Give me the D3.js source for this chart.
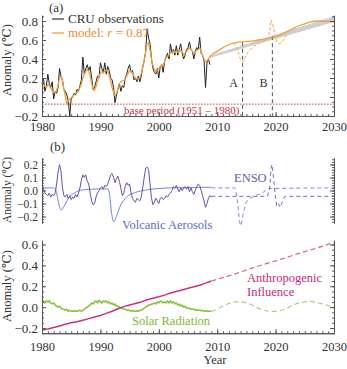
<!DOCTYPE html>
<html>
<head>
<meta charset="utf-8">
<script src="https://cdnjs.cloudflare.com/ajax/libs/d3/7.8.5/d3.min.js"></script>
<style>
body { margin: 0; background: #fff; }
svg text { font-family: "Liberation Serif", "DejaVu Serif", serif; }
.axis path, .axis line { stroke: #555; stroke-width: 1; }
.axis text { font-size: 13px; fill: #333; }
.axis.small text { font-size: 11.5px; }
.axis.xt text { font-size: 12.5px; }
</style>
</head>
<body>
<svg id="fig" width="347" height="369"></svg>
<script>
// ---- data ----
// panel (a): quarterly values starting 1980.0
var cruObs = [
  0.14, 0.20, 0.06, 0.12,  0.24, 0.14, 0.10, 0.16,  -0.02, 0.06, 0.04, 0.10,
  0.30, 0.22, 0.18, 0.08,  0.06, 0.02, -0.04, -0.20,  -0.02, 0.00, 0.04, 0.02,
  0.08, 0.06, 0.12, 0.18,  0.42, 0.24, 0.30, 0.34,  0.28, 0.32, 0.20, 0.08,
  0.10, 0.16, 0.22, 0.20,  0.36, 0.30, 0.26, 0.36,  0.24, 0.32, 0.28, 0.20,
  0.18, 0.10, -0.06, 0.02,  0.08, 0.14, 0.06, 0.12,  0.10, 0.20, 0.24, 0.30,
  0.34, 0.26, 0.28, 0.18,  0.20, 0.16, 0.22, 0.16,  0.22, 0.32, 0.38, 0.48,
  0.72, 0.62, 0.56, 0.40,  0.30, 0.26, 0.24, 0.30,  0.20, 0.32, 0.34, 0.26,
  0.38, 0.42, 0.46, 0.40,  0.56, 0.46, 0.50, 0.44,  0.54, 0.44, 0.50, 0.56,
  0.46, 0.40, 0.44, 0.50,  0.52, 0.58, 0.50, 0.48,  0.40, 0.48, 0.52, 0.50,
  0.63, 0.46, 0.44, 0.38,  0.10, 0.36, 0.40, 0.34
];
var modelFit = [
  0.14, 0.13, 0.11, 0.10,  0.13, 0.12, 0.09, 0.07,  0.05, 0.05, 0.07, 0.12,
  0.20, 0.22, 0.17, 0.08,  0.01, -0.08, -0.04, -0.02,  -0.01, 0.01, 0.02, 0.04,
  0.05, 0.07, 0.10, 0.14,  0.20, 0.24, 0.27, 0.29,  0.27, 0.22, 0.14, 0.08,
  0.07, 0.11, 0.16, 0.21,  0.25, 0.27, 0.25, 0.28,  0.28, 0.27, 0.23, 0.17,
  0.10, 0.05, 0.02, 0.04,  0.09, 0.14, 0.16, 0.17,  0.17, 0.19, 0.22, 0.25,
  0.28, 0.27, 0.25, 0.22,  0.20, 0.19, 0.19, 0.21,  0.25, 0.31, 0.39, 0.47,
  0.56, 0.57, 0.49, 0.40,  0.33, 0.29, 0.27, 0.28,  0.30, 0.32, 0.33, 0.34,
  0.37, 0.41, 0.43, 0.44,  0.47, 0.47, 0.48, 0.47,  0.48, 0.47, 0.48, 0.49,
  0.47, 0.45, 0.46, 0.48,  0.50, 0.52, 0.50, 0.48,  0.46, 0.47, 0.49, 0.50,
  0.52, 0.48, 0.44, 0.40,  0.37, 0.38, 0.40, 0.42
];
var projYears = [2008.75, 2009, 2010, 2011, 2012, 2013, 2014, 2015, 2016, 2017, 2018, 2019,
                 2020, 2021, 2022, 2023, 2024, 2025, 2026, 2027, 2028, 2029, 2030];
var modelProj = [0.42, 0.44, 0.48, 0.52, 0.55, 0.57, 0.58, 0.585, 0.59, 0.60, 0.61, 0.62,
                 0.635, 0.66, 0.69, 0.72, 0.75, 0.77, 0.79, 0.80, 0.80, 0.795, 0.79];
var scenYears = [2012.8, 2013.3, 2013.7, 2014.0, 2014.4, 2014.8, 2015.3, 2016, 2017, 2018,
                 2018.7, 2019.0, 2019.2, 2019.5, 2019.8, 2020.2, 2020.6, 2021.0, 2021.5, 2022];
var scenVals = [0.565, 0.53, 0.45, 0.39, 0.37, 0.42, 0.47, 0.52, 0.56, 0.59,
                0.62, 0.70, 0.81, 0.77, 0.68, 0.58, 0.56, 0.57, 0.62, 0.68];
var bandYears = [2008.7, 2030];
var bandLo = [0.41, 0.79];
var bandHi = [0.435, 0.85];
var basePeriod = -0.075;
var markYears = [2014.35, 2019.45];
var markTop = [0.58, 0.64];
var markNames = ["A", "B"];

// panel (b): quarterly ENSO from 1980.0, volcanic at irregular times
var enso = [
  0.02, 0.01, -0.02, -0.03,  -0.04, -0.02, -0.05, -0.03,  -0.04, -0.02, 0.05, 0.14,
  0.20, 0.15, 0.02, -0.04,  -0.05, -0.03, -0.06, -0.04,  -0.07, -0.05, -0.06, -0.03,
  -0.05, -0.02, 0.02, 0.08,  0.12, 0.10, 0.12, 0.07,  0.05, -0.02, -0.08, -0.11,
  -0.10, -0.05, -0.02, 0.00,  0.02, 0.03, 0.01, 0.04,  0.03, 0.05, 0.08, 0.12,
  0.13, 0.10, 0.06, 0.09,  0.11, 0.07, 0.02, -0.04,  -0.02, 0.03, 0.06, 0.04,
  0.05, -0.02, -0.06, -0.08,  -0.09, -0.06, -0.07, -0.08,  -0.05, 0.02, 0.10, 0.17,
  0.18, 0.16, 0.05, -0.06,  -0.11, -0.09, -0.06, -0.08,  -0.10, -0.06, -0.05, -0.07,
  -0.06, -0.04, -0.05, -0.03,  -0.02, 0.00, 0.03, 0.02,  0.04, 0.01, -0.01, 0.02,
  0.00, 0.02, 0.03, 0.01,  0.03, -0.01, 0.02, -0.01,  -0.03, 0.00, 0.03, 0.05,
  0.04, 0.00, -0.04, -0.08,  -0.13, -0.10, -0.06, -0.04,  -0.05
];
var ensoDashYears = [2009, 2018.6, 2019.0, 2019.2, 2019.4, 2019.6, 2019.9, 2020.2, 2020.5, 2020.8, 2021.2, 2021.6, 2030];
var ensoDash = [-0.045, -0.045, 0.02, 0.17, 0.20, 0.12, -0.02, -0.12, -0.10, -0.13, -0.08, -0.045, -0.045];
var volcYears = [1980, 1982, 1982.4, 1982.8, 1983.3, 1983.8, 1984.5, 1985.5, 1987, 1990, 1991.3,
                 1991.6, 1991.9, 1992.3, 1992.8, 1993.5, 1994.5, 1996, 1998, 2002, 2009];
var volcVals = [0.02, 0.02, 0.0, -0.09, -0.15, -0.12, -0.06, -0.02, 0.005, 0.012, 0.012,
                -0.04, -0.17, -0.24, -0.19, -0.11, -0.05, -0.015, 0.005, 0.02, 0.025];
var volcDashYears = [2009, 2013.0, 2013.5, 2014.0, 2014.5, 2015.0, 2016.0, 2017.5, 2019.0, 2030];
var volcDash = [0.02, 0.02, -0.10, -0.27, -0.17, -0.09, -0.05, -0.025, 0.015, 0.02];

// panel (c): yearly anthropogenic, quarterly solar from 1980.0
var anthroYears = [1980, 1981, 1982, 1983, 1984, 1985, 1986, 1987, 1988, 1989, 1990, 1991, 1992, 1993, 1994,
                   1995, 1996, 1997, 1998, 1999, 2000, 2001, 2002, 2003, 2004, 2005, 2006, 2007, 2008, 2009];
var anthro = [-0.22, -0.21, -0.195, -0.18, -0.165, -0.15, -0.14, -0.125, -0.11, -0.095, -0.08, -0.06, -0.04, -0.015, 0.005,
              0.02, 0.035, 0.05, 0.07, 0.085, 0.10, 0.115, 0.135, 0.15, 0.165, 0.18, 0.195, 0.21, 0.23, 0.25];
var anthroDashYears = [2009, 2012, 2015, 2018, 2021, 2024, 2027, 2030];
var anthroDash = [0.25, 0.30, 0.355, 0.41, 0.46, 0.515, 0.565, 0.62];
var solar = [
  0.05, 0.06, 0.04, 0.06,  0.05, 0.06, 0.04, 0.03,  0.04, 0.02, 0.01, 0.00,
  0.01, -0.01, -0.02, -0.02,  -0.03, -0.02, -0.04, -0.03,  -0.04, -0.04, -0.035, -0.04,
  -0.04, -0.035, -0.03, -0.04,  -0.03, -0.02, -0.01, 0.00,  0.01, 0.02, 0.04, 0.03,
  0.05, 0.06, 0.04, 0.065,  0.05, 0.04, 0.06, 0.05,  0.06, 0.04, 0.05, 0.03,
  0.04, 0.02, 0.03, 0.01,  0.01, 0.00, -0.01, -0.01,  -0.02, -0.02, -0.03, -0.03,
  -0.03, -0.04, -0.03, -0.04,  -0.04, -0.035, -0.04, -0.03,  -0.03, -0.02, -0.01, 0.00,
  0.01, 0.02, 0.02, 0.03,  0.03, 0.04, 0.03, 0.05,  0.04, 0.06, 0.05, 0.04,
  0.05, 0.04, 0.06, 0.04,  0.06, 0.04, 0.05, 0.03,  0.04, 0.02, 0.03, 0.01,
  0.02, 0.00, 0.01, -0.01,  -0.01, -0.01, -0.02, -0.02,  -0.02, -0.03, -0.025, -0.03,
  -0.03, -0.035, -0.03, -0.04,  -0.04, -0.035, -0.04, -0.04,  -0.04
];
var solarDashYears = [2009, 2010, 2011, 2012, 2013, 2014, 2015, 2016, 2017, 2018, 2019,
                      2020, 2021, 2022, 2023, 2024, 2025, 2026, 2027, 2028, 2029, 2030];
var solarDash = [-0.04, -0.02, 0.01, 0.035, 0.05, 0.05, 0.04, 0.02, -0.01, -0.03, -0.04,
                 -0.04, -0.03, -0.01, 0.02, 0.04, 0.05, 0.055, 0.045, 0.03, 0.015, 0.0];

var yearTicks = [1980, 1990, 2000, 2010, 2020, 2030];

// ---- layout ----
var svg = d3.select("#fig");
var xL = 42, xR = 334;
var x = d3.scaleLinear().domain([1980, 2030]).range([xL, xR]);
var yA = d3.scaleLinear().domain([-0.2, 0.8]).range([116, 21]);
var yB = d3.scaleLinear().domain([-0.2, 0.2]).range([216.5, 164.5]);
var yC = d3.scaleLinear().domain([-0.2, 0.6]).range([328, 244.5]);
var fmt = d3.format(".1f");
var q = function (i) { return 1980 + i / 4; };

function yFrame(y, lo, hi, major, minorStep, cls) {
  var minor = d3.range(Math.ceil(lo / minorStep - 1e-9), Math.floor(hi / minorStep + 1e-9) + 1)
      .map(function (k) { return k * minorStep; });
  var ys = y.copy().domain([lo, hi]).range([y(lo), y(hi)]);
  [[d3.axisLeft, xL, true], [d3.axisRight, xR, false]].forEach(function (s) {
    svg.append("g").attr("class", "axis").attr("transform", "translate(" + s[1] + ",0)")
      .call(s[0](ys).tickValues(minor).tickSize(-2).tickSizeOuter(0).tickFormat(""));
    svg.append("g").attr("class", "axis " + (cls || "")).attr("transform", "translate(" + s[1] + ",0)")
      .call(s[0](ys).tickValues(major).tickSize(-4).tickSizeOuter(0).tickPadding(4)
        .tickFormat(s[2] ? fmt : ""));
  });
}
function xFrame(yPos, pad) {
  svg.append("g").attr("class", "axis").attr("transform", "translate(0," + yPos + ")")
    .call(d3.axisBottom(x).tickValues(d3.range(1980, 2031)).tickSize(-2).tickSizeOuter(0).tickFormat(""));
  svg.append("g").attr("class", "axis xt").attr("transform", "translate(0," + yPos + ")")
    .call(d3.axisBottom(x).tickValues(yearTicks).tickSize(-4).tickSizeOuter(0).tickPadding(pad)
      .tickFormat(d3.format("d")));
}
function path(data, xs, ys, color, width, dash, curve) {
  var line = d3.line().x(function (d) { return x(d[0]); }).y(function (d) { return ys(d[1]); })
    .curve(curve || d3.curveLinear);
  svg.append("path").datum(d3.zip(xs, data)).attr("d", line)
    .attr("fill", "none").attr("stroke", color).attr("stroke-width", width)
    .attr("stroke-dasharray", dash || null).attr("stroke-linejoin", "round");
}
function label(txt, px, py, size, color, anchor) {
  return svg.append("text").attr("x", px).attr("y", py).attr("font-size", size)
    .attr("fill", color).attr("text-anchor", anchor || "start").text(txt);
}

// ---- panel (a) ----
svg.append("line").attr("x1", x(1980)).attr("x2", x(2030))
  .attr("y1", yA(basePeriod)).attr("y2", yA(basePeriod))
  .attr("stroke", "#d03a4a").attr("stroke-width", 1).attr("stroke-dasharray", "1.5,1.5");
label("base period (1951 \u2013 1980)", 124, 114, 11, "#c8324a");

svg.append("path")
  .datum(d3.zip(bandYears, bandLo, bandHi))
  .attr("d", d3.area().x(function (d) { return x(d[0]); })
    .y0(function (d) { return yA(d[1]); }).y1(function (d) { return yA(d[2]); }))
  .attr("fill", "#cfcfd2");

markYears.forEach(function (m, i) {
  svg.append("line").attr("x1", x(m)).attr("x2", x(m)).attr("y1", yA(markTop[i])).attr("y2", yA(-0.2))
    .attr("stroke", "#555").attr("stroke-width", 1).attr("stroke-dasharray", "4,3");
  label(markNames[i], x(m) - 9, 87, 12, "#333", "middle");
});

path(cruObs, cruObs.map(function (d, i) { return q(i); }), yA, "#222", 1);
path(modelFit, modelFit.map(function (d, i) { return q(i); }), yA, "#f0a040", 1.3);
path(modelProj, projYears, yA, "#f0a040", 1.3, null, d3.curveMonotoneX);
path(scenVals, scenYears, yA, "#f0a848", 1, "3,2");

yFrame(yA, -0.2, 0.86, [-0.2, 0, 0.2, 0.4, 0.6, 0.8], 0.05);
xFrame(yA(-0.2), 6);

svg.append("line").attr("x1", 52).attr("x2", 64).attr("y1", 19).attr("y2", 19)
  .attr("stroke", "#333").attr("stroke-width", 1.2);
label("CRU observations", 68, 23, 13, "#333");
svg.append("line").attr("x1", 52).attr("x2", 64).attr("y1", 33).attr("y2", 33)
  .attr("stroke", "#f0a040").attr("stroke-width", 1.3);
var mt = label("model: ", 68, 37, 13, "#e8902e");
mt.append("tspan").attr("font-style", "italic").text("r");
mt.append("tspan").text(" = 0.87");
label("(a)", 49, 12, 13, "#333");

// ---- panel (b) ----
path(volcVals, volcYears, yB, "#7086dc", 1, null, d3.curveMonotoneX);
path(volcDash, volcDashYears, yB, "#7a8ee0", 1, "4,3", d3.curveMonotoneX);
path(enso, enso.map(function (d, i) { return q(i); }), yB, "#6e4ea8", 1);
path(ensoDash, ensoDashYears, yB, "#7d68c0", 1, "4,3");
yFrame(yB, -0.25, 0.25, [-0.2, -0.1, 0, 0.1, 0.2], 0.02, "small");
label("(b)", 50, 151, 13, "#333");
label("ENSO", 234, 182, 12.5, "#6a58a8");
label("Volcanic Aerosols", 122, 229, 12.5, "#5a6ccc");

// ---- panel (c) ----
path(solar, solar.map(function (d, i) { return q(i); }), yC, "#84c034", 1.5);
path(solarDash, solarDashYears, yC, "#a8d080", 1.2, "5,3", d3.curveMonotoneX);
path(anthro, anthroYears, yC, "#d0307a", 1.5);
path(anthroDash, anthroDashYears, yC, "#d8609a", 1.2, "5,3", d3.curveMonotoneX);
yFrame(yC, -0.25, 0.64, [-0.2, 0, 0.2, 0.4, 0.6], 0.05);
xFrame(yC(-0.25), 9);
label("Anthropogenic", 247, 282, 12.5, "#c8287a");
label("Influence", 247, 296, 12.5, "#c8287a");
label("Solar Radiation", 132, 325, 12.5, "#7cb830");
label("Year", 215, 364, 12.5, "#333", "middle");

// y titles
[[60, 12.5], [190, 11.5], [286, 12.5]].forEach(function (p) {
  svg.append("text").attr("transform", "translate(11," + p[0] + ") rotate(-90)")
    .attr("text-anchor", "middle").attr("font-size", p[1]).attr("fill", "#333")
    .text("Anomaly (\u2103)");
});
</script>
</body>
</html>
